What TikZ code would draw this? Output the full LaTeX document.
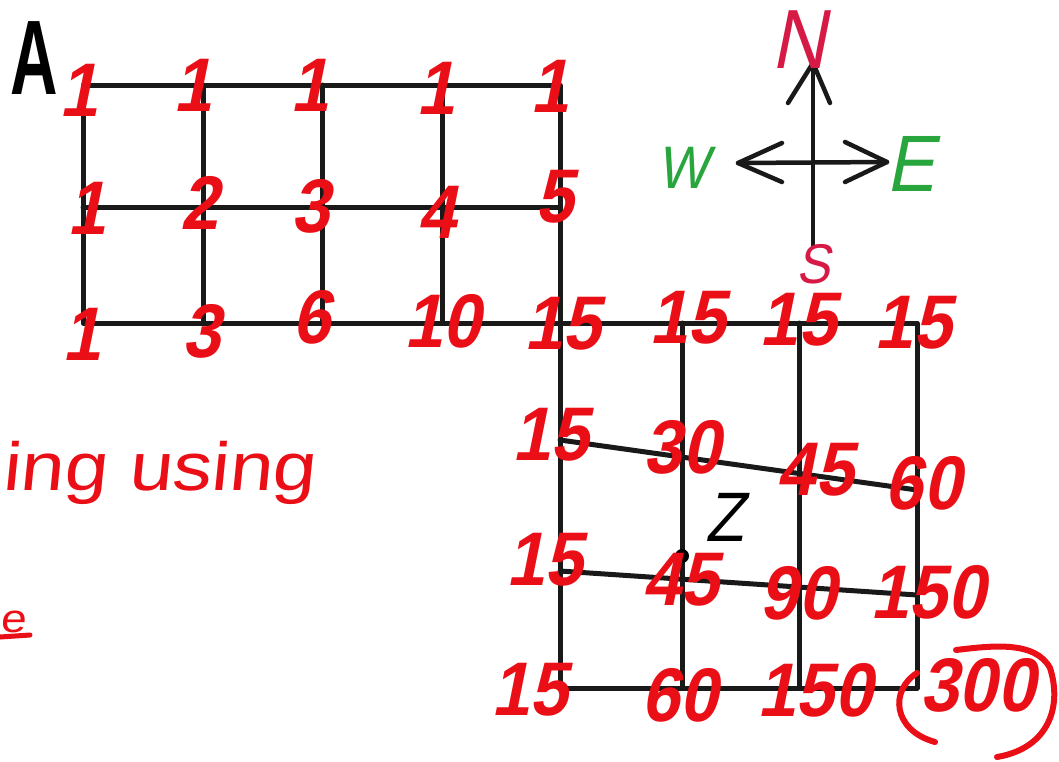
\documentclass[tikz,border=0pt]{standalone}
\usepackage{fontspec}
\newfontfamily\hand{Liberation Sans}[FakeSlant=0.2,FakeStretch=0.9]
\newfontfamily\handw{Liberation Sans}[FakeSlant=0.1,FakeStretch=1.15]
\newfontfamily\handa{Liberation Sans}[FakeStretch=0.62]
\definecolor{hred}{RGB}{234,14,22}
\definecolor{hcrim}{RGB}{214,26,70}
\definecolor{hgreen}{RGB}{40,165,60}
\newcommand\numfont{\hand\bfseries\fontsize{76}{76}\selectfont}
\tikzset{
  gridline/.style={line width=5, black!90, line cap=round, line join=round},
  compline/.style={line width=4.5, black!90, line cap=round, line join=round},
  num/.style={text=hred, inner sep=0, font=\numfont},
  lbl/.style={inner sep=0},
  redstroke/.style={draw=hred, line width=6, line cap=round},
}
\begin{document}
\begin{tikzpicture}[x=1pt,y=-1pt]
\useasboundingbox (0,0) rectangle (1059,761);
% ---------- grid A ----------
\coordinate (a00) at (83,85);   \coordinate (a40) at (560,85);
\coordinate (a01) at (83,207);  \coordinate (a41) at (560,207);
\coordinate (a02) at (83,323);  \coordinate (a42) at (560,323);
\draw[gridline] (a00) rectangle (a42);
\draw[gridline] (a01) -- (a41);
\foreach \x in {203,322,442} \draw[gridline] (\x,85) -- (\x,323);
% ---------- grid Z ----------
\coordinate (z00) at (560,323); \coordinate (z30) at (917,323);
\coordinate (z01) at (560,440); \coordinate (z31) at (917,490);
\coordinate (z02) at (560,571); \coordinate (z32) at (917,595);
\coordinate (z03) at (560,688); \coordinate (z33) at (917,688);
\draw[gridline] (a42) -- (z30) -- (z33) -- (z03) -- (z00);
\draw[gridline] (z01) -- (z31);
\draw[gridline] (z02) -- (z32);
\foreach \x in {682,799} \draw[gridline] (\x,323) -- (\x,688);
\fill[black] (682,556) circle (7);
% ---------- compass ----------
\coordinate (cN) at (813,63);  \coordinate (cS) at (813,247);
\coordinate (cW) at (738,163); \coordinate (cE) at (887,162);
\draw[compline] (cS) -- (cN);
\draw[compline] (788,103) -- (cN) -- (830,103);
\draw[compline] (cW) -- (cE);
\draw[compline] (782,143) -- (cW) -- (782,182);
\draw[compline] (845,142) -- (cE) -- (845,182);
\node[lbl, text=hcrim, font=\hand\fontsize{84}{84}\selectfont] (N) at (799,40) {N};
\node[lbl, text=hcrim, font=\hand\fontsize{56}{56}\selectfont] (S) at (813,264) {S};
\node[lbl, text=hgreen, font=\hand\fontsize{60}{60}\selectfont] (W) at (683,168) {W};
\node[lbl, text=hgreen, font=\hand\fontsize{80}{80}\selectfont] (E) at (910,164) {E};
% ---------- labels ----------
\node[lbl, font=\handa\bfseries\fontsize{106}{106}\selectfont] (A) at (34,58) {A};
\node[lbl, font=\hand\fontsize{70}{70}\selectfont] (Z) at (725,517) {Z};
% grid A numbers
\node[num] (n11) at (79,90) {1};
\node[num] (n12) at (193,85) {1};
\node[num] (n13) at (310,85) {1};
\node[num] (n14) at (436,88) {1};
\node[num] (n15) at (550,86) {1};
\node[num] (n21) at (87,208) {1};
\node[num] (n22) at (200,203) {2};
\node[num] (n23) at (311,206) {3};
\node[num] (n24) at (437,212) {4};
\node[num] (n25) at (555,197) {5};
\node[num] (n31) at (82,334) {1};
\node[num] (n32) at (202,331) {3};
\node[num] (n33) at (312,317) {6};
\node[num] (n34) at (443,321) {10};
\node[num] (n35) at (563,324) {15};
% grid Z numbers
\node[num] (m12) at (688,318) {15};
\node[num] (m13) at (798,320) {15};
\node[num] (m14) at (913,323) {15};
\node[num] (m21) at (551,435) {15};
\node[num] (m22) at (682,447) {30};
\node[num] (m23) at (815,470) {45};
\node[num] (m24) at (923,483) {60};
\node[num] (m31) at (545,560) {15};
\node[num] (m32) at (681,580) {45};
\node[num] (m33) at (798,593) {90};
\node[num] (m34) at (928,592) {150};
\node[num] (m41) at (530,690) {15};
\node[num] (m42) at (680,695) {60};
\node[num] (m43) at (815,690) {150};
\node[num] (m44) at (978,685) {300};
% circle round 300
\draw[redstroke] (917,673) .. controls (890,690) and (892,730) .. (935,742);
\draw[redstroke] (956,650) .. controls (990,646) and (1035,640) .. (1050,668)
   .. controls (1062,705) and (1050,748) .. (997,757);
% left text
\node[lbl, anchor=base west, text=hred, font=\handw\fontsize{68}{68}\selectfont] (t1) at (2,490) {ing using};
\node[lbl, text=hred, font=\handw\fontsize{40}{40}\selectfont] (t2) at (13,622) {e};
\coordinate (u1) at (0,637); \coordinate (u2) at (30,635);
\draw[redstroke, line width=5] (u1) -- (u2);
\end{tikzpicture}
\end{document}
